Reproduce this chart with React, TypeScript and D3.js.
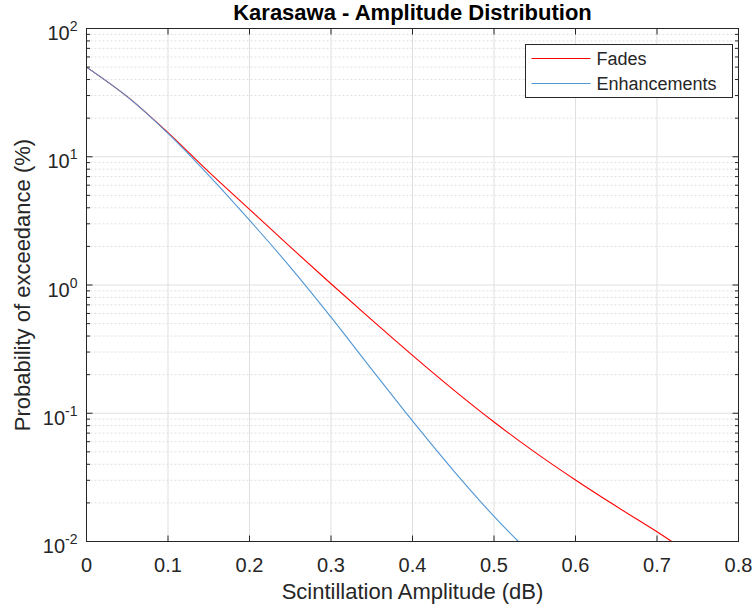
import React from 'react';
import * as d3 from 'd3';

const title = 'Karasawa - Amplitude Distribution';
const xLabel = 'Scintillation Amplitude (dB)';
const yLabel = 'Probability of exceedance (%)';
const xTicks = [0, 0.1, 0.2, 0.3, 0.4, 0.5, 0.6, 0.7, 0.8];
const xTickLabels = ['0', '0.1', '0.2', '0.3', '0.4', '0.5', '0.6', '0.7', '0.8'];
const yDecades = [-2, -1, 0, 1, 2];
const seriesNames = ['Fades', 'Enhancements'];

const fadesX = [0, 0.05, 0.1, 0.15, 0.2, 0.25, 0.3, 0.35, 0.4, 0.45, 0.5, 0.55, 0.6, 0.65, 0.7, 0.718];
const fadesY = [50, 29.4, 15.4, 7.62, 3.89, 1.98, 1.023, 0.535, 0.283, 0.153, 0.0855, 0.0498, 0.0302, 0.0188, 0.0119, 0.01];
const enhX = [0, 0.05, 0.1, 0.15, 0.2, 0.25, 0.3, 0.35, 0.4, 0.45, 0.5, 0.53];
const enhY = [50, 29.4, 15.2, 7.16, 3.2, 1.38, 0.562, 0.22, 0.0871, 0.0359, 0.0157, 0.01];

const W = 754;
const H = 610;
const L = 86.5, R = 738.5, T = 28.5, B = 541.5;
const FONT = '"Liberation Sans", Arial, Helvetica, sans-serif';
const AX = '#262626';
const COLORS = ['#ff0000', '#4f96d4'];

export default function App() {
  const x = d3.scaleLinear().domain([0, 0.8]).range([L, R]);
  const y = d3.scaleLog().domain([0.01, 100]).range([B, T]);

  const line = d3
    .line<[number, number]>()
    .x((d) => x(d[0]))
    .y((d) => y(d[1]))
    .curve(d3.curveCatmullRom.alpha(0.5));

  const fades: [number, number][] = fadesX.map((v, i) => [v, fadesY[i]]);
  const enh: [number, number][] = enhX.map((v, i) => [v, enhY[i]]);

  const minor: number[] = [];
  for (let e = -2; e < 2; e++) {
    for (let m = 2; m <= 9; m++) minor.push(m * Math.pow(10, e));
  }

  const legX = 525.5, legY = 44.5, legW = 207, legH = 53;

  return (
    <svg
      width={W}
      height={H}
      style={{ position: 'absolute', left: 0, top: 0, background: '#fff' }}
      fontFamily={FONT}
    >
      <defs>
        <clipPath id="plotclip">
          <rect x={L} y={T} width={R - L} height={B - T} />
        </clipPath>
      </defs>
      <rect x={0} y={0} width={W} height={H} fill="#fff" />

      {/* minor grid */}
      {minor.map((v, i) => (
        <line
          key={'mg' + i}
          x1={L}
          x2={R}
          y1={y(v)}
          y2={y(v)}
          stroke="#e0e0e0"
          strokeWidth={1}
          strokeDasharray="2,2"
        />
      ))}
      {/* major grid */}
      {xTicks.slice(1, -1).map((v, i) => (
        <line key={'gx' + i} x1={x(v)} x2={x(v)} y1={T} y2={B} stroke="#dfdfdf" strokeWidth={1} />
      ))}
      {yDecades.slice(1, -1).map((e, i) => (
        <line
          key={'gy' + i}
          x1={L}
          x2={R}
          y1={y(Math.pow(10, e))}
          y2={y(Math.pow(10, e))}
          stroke="#dfdfdf"
          strokeWidth={1}
        />
      ))}

      {/* data */}
      <g clipPath="url(#plotclip)">
        <path d={line(fades) || ''} fill="none" stroke={COLORS[0]} strokeWidth={1.1} />
        <path d={line(enh) || ''} fill="none" stroke={COLORS[1]} strokeWidth={1.1} />
      </g>

      {/* box */}
      <rect x={L} y={T} width={R - L} height={B - T} fill="none" stroke={AX} strokeWidth={1} />

      {/* x ticks */}
      {xTicks.map((v, i) => (
        <g key={'xt' + i}>
          <line x1={x(v)} x2={x(v)} y1={B} y2={B - 6} stroke={AX} strokeWidth={1} />
          <line x1={x(v)} x2={x(v)} y1={T} y2={T + 6} stroke={AX} strokeWidth={1} />
          <text x={x(v)} y={572} textAnchor="middle" fontSize={20} fill={AX}>
            {xTickLabels[i]}
          </text>
        </g>
      ))}

      {/* y ticks */}
      {yDecades.map((e, i) => {
        const yy = y(Math.pow(10, e));
        return (
          <g key={'yt' + i}>
            <line x1={L} x2={L + 6} y1={yy} y2={yy} stroke={AX} strokeWidth={1} />
            <line x1={R} x2={R - 6} y1={yy} y2={yy} stroke={AX} strokeWidth={1} />
            <text x={77.5} y={yy + 11.5} textAnchor="end" fontSize={20} fill={AX}>
              <tspan>10</tspan>
              <tspan fontSize={14} dy={-9}>
                {String(e)}
              </tspan>
            </text>
          </g>
        );
      })}
      {minor.map((v, i) => (
        <g key={'ym' + i}>
          <line x1={L} x2={L + 3.5} y1={y(v)} y2={y(v)} stroke={AX} strokeWidth={1} />
          <line x1={R} x2={R - 3.5} y1={y(v)} y2={y(v)} stroke={AX} strokeWidth={1} />
        </g>
      ))}

      {/* labels */}
      <text x={(L + R) / 2} y={19.5} textAnchor="middle" fontSize={22} fontWeight="bold" fill="#000">
        {title}
      </text>
      <text x={(L + R) / 2} y={599} textAnchor="middle" fontSize={22} fill={AX}>
        {xLabel}
      </text>
      <text
        transform={`translate(30,${(T + B) / 2}) rotate(-90)`}
        textAnchor="middle"
        fontSize={22}
        fill={AX}
      >
        {yLabel}
      </text>

      {/* legend */}
      <rect x={legX} y={legY} width={legW} height={legH} fill="#fff" stroke={AX} strokeWidth={1} />
      {seriesNames.map((n, i) => {
        const ly = 58.5 + i * 25;
        return (
          <g key={'lg' + i}>
            <line x1={531.5} x2={590.5} y1={ly} y2={ly} stroke={COLORS[i]} strokeWidth={1.1} />
            <text x={596.5} y={ly + 6.3} fontSize={18} fill={AX}>
              {n}
            </text>
          </g>
        );
      })}
    </svg>
  );
}
